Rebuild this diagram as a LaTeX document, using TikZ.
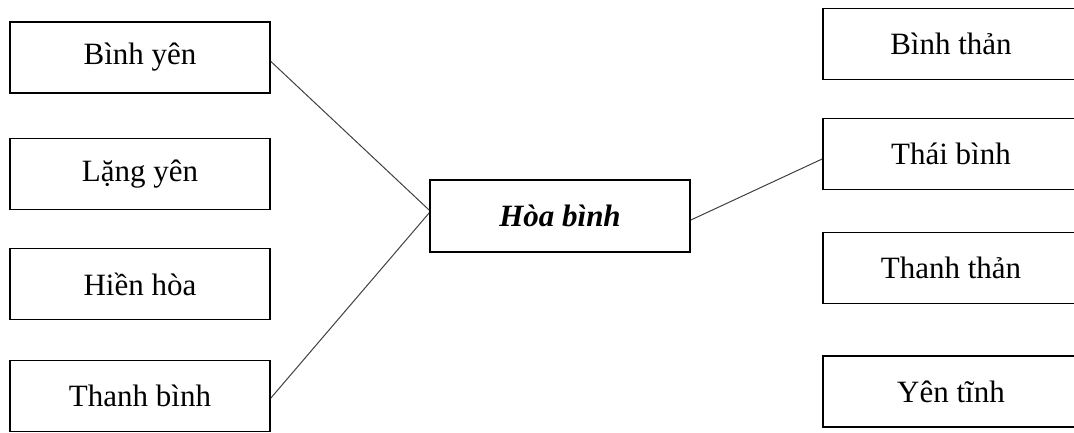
\documentclass[tikz,border=0pt]{standalone}
\usepackage{fontspec}
\setmainfont{Liberation Serif}
\usetikzlibrary{positioning}
\tikzstyle{block} = [draw, rectangle, line width=1.8pt, fill=white,
    minimum height=71pt, minimum width=260pt, inner sep=0pt, font=\fontsize{31}{37}\selectfont]
\tikzstyle{rblock} = [block, minimum width=256pt]
\tikzstyle{connector} = [line width=1pt, black!75]

\begin{document}
\begin{tikzpicture}[x=1pt, y=1pt]
    \useasboundingbox (0,0) rectangle (1074,-432);
    % left column
    \node (binhyen) [block] at (140,-57.5) {Bình yên};
    \node (langyen) [block, below of=binhyen, node distance=116.5pt] {Lặng yên};
    \node (hienhoa) [block, below of=langyen, node distance=110pt] {Hiền hòa};
    \node (thanhbinh) [block, below of=hienhoa, node distance=112pt] {Thanh bình};
    % middle
    \node (hoabinh) [block, minimum height=72pt] at (560,-216) {\textbf{\textit{Hòa bình}}};
    % right column
    \node (binhthan) [rblock] at (951,-44) {Bình thản};
    \node (thaibinh) [rblock, below of=binhthan, node distance=110pt] {Thái bình};
    \node (thanhthan) [rblock, below of=thaibinh, node distance=114pt] {Thanh thản};
    \node (yentinh) [rblock, below of=thanhthan, node distance=123.5pt] {Yên tĩnh};

    \draw [connector] ([yshift=-4pt]binhyen.east) -- ([yshift=6pt]hoabinh.west);
    \draw [connector] ([yshift=-2pt]thanhbinh.east) -- ([yshift=3pt]hoabinh.west);
    \draw [connector] ([yshift=-4pt]hoabinh.east) -- ([yshift=-5pt]thaibinh.west);
\end{tikzpicture}
\end{document}
